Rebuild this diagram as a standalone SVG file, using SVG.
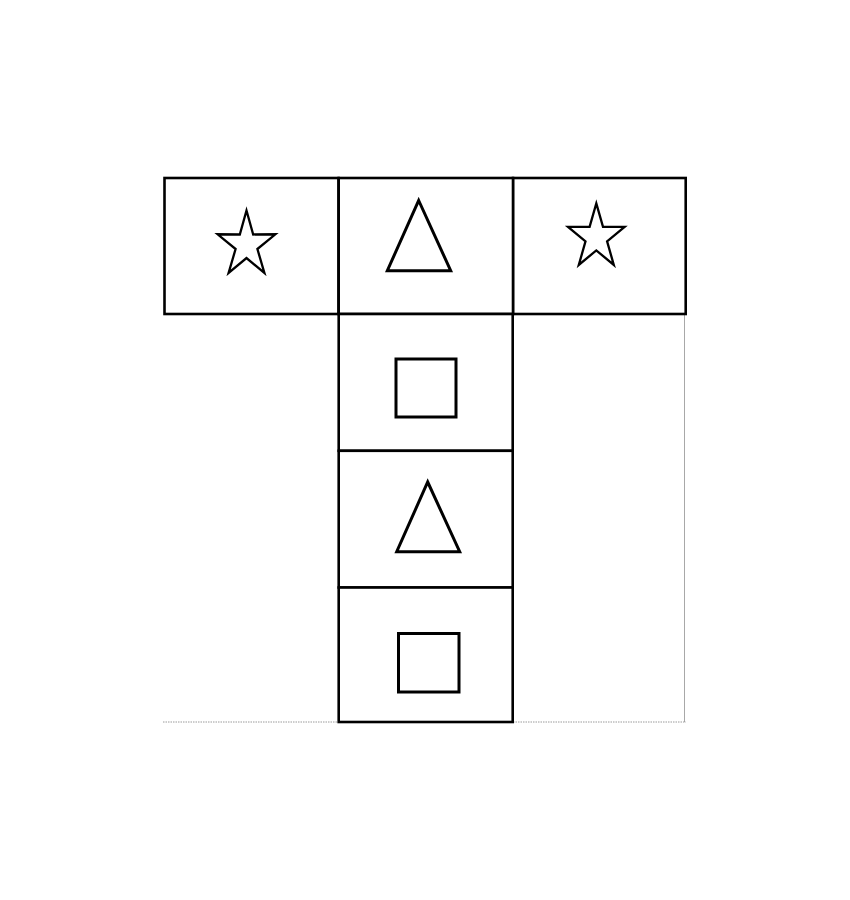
<svg xmlns="http://www.w3.org/2000/svg" width="850" height="900" viewBox="0 0 850 900">
  <style>
    .cell { fill: #ffffff; stroke: #000000; stroke-width: 2.6; }
    .shape { fill: #ffffff; stroke: #000000; stroke-width: 3; stroke-linejoin: miter; }
    .star { fill: #ffffff; stroke: #000000; stroke-width: 2.3; stroke-linejoin: miter; }
    .guide { fill: none; stroke: #a8a8a8; stroke-width: 1; }
    .dotted { fill: none; stroke: #9a9a9a; stroke-width: 1; stroke-dasharray: 1.5 1; }
  </style>
  <rect x="0" y="0" width="850" height="900" fill="#ffffff"/>
  <g id="guides">
    <line class="guide" x1="684.5" y1="314" x2="684.5" y2="722"/>
    <line class="dotted" x1="163" y1="722" x2="339" y2="722"/>
    <line class="dotted" x1="513" y1="722" x2="686" y2="722"/>
  </g>
  <g id="connectors"></g>
  <g id="cell-top-left">
    <rect class="cell" x="164.5" y="178" width="174" height="136"/>
    <polygon class="star" points="246.5,210.5 253.2,234.5 275.4,234.3 257.4,249 264.4,272.9 246.5,258 228.6,272.9 235.6,249 217.6,234.3 239.8,234.5"/>
  </g>
  <g id="cell-top-right">
    <rect class="cell" x="513" y="178" width="172.7" height="136"/>
    <polygon class="star" points="596.3,203.4 603,226.9 624.6,226.9 607.1,241.4 613.8,264.9 596.3,250.4 578.8,264.9 585.5,241.4 568,226.9 589.6,226.9"/>
  </g>
  <g id="cell-top-middle">
    <rect class="cell" x="338.7" y="178" width="174.3" height="136" stroke-width="3"/>
    <polygon class="shape" points="418.7,200.5 450.7,270.7 387.3,270.7"/>
  </g>
  <g id="cell-row2">
    <rect class="cell" x="338.7" y="314" width="174" height="136.8" stroke-width="3"/>
    <rect class="shape" x="396" y="359" width="60" height="58"/>
  </g>
  <g id="cell-row3">
    <rect class="cell" x="338.7" y="450.8" width="174" height="136.7" stroke-width="3"/>
    <polygon class="shape" points="427.7,482 459.7,551.7 396.7,551.7"/>
  </g>
  <g id="cell-row4">
    <rect class="cell" x="338.7" y="587.5" width="174" height="134.5" stroke-width="3"/>
    <rect class="shape" x="398.5" y="633.5" width="60.5" height="58.5"/>
  </g>
</svg>
